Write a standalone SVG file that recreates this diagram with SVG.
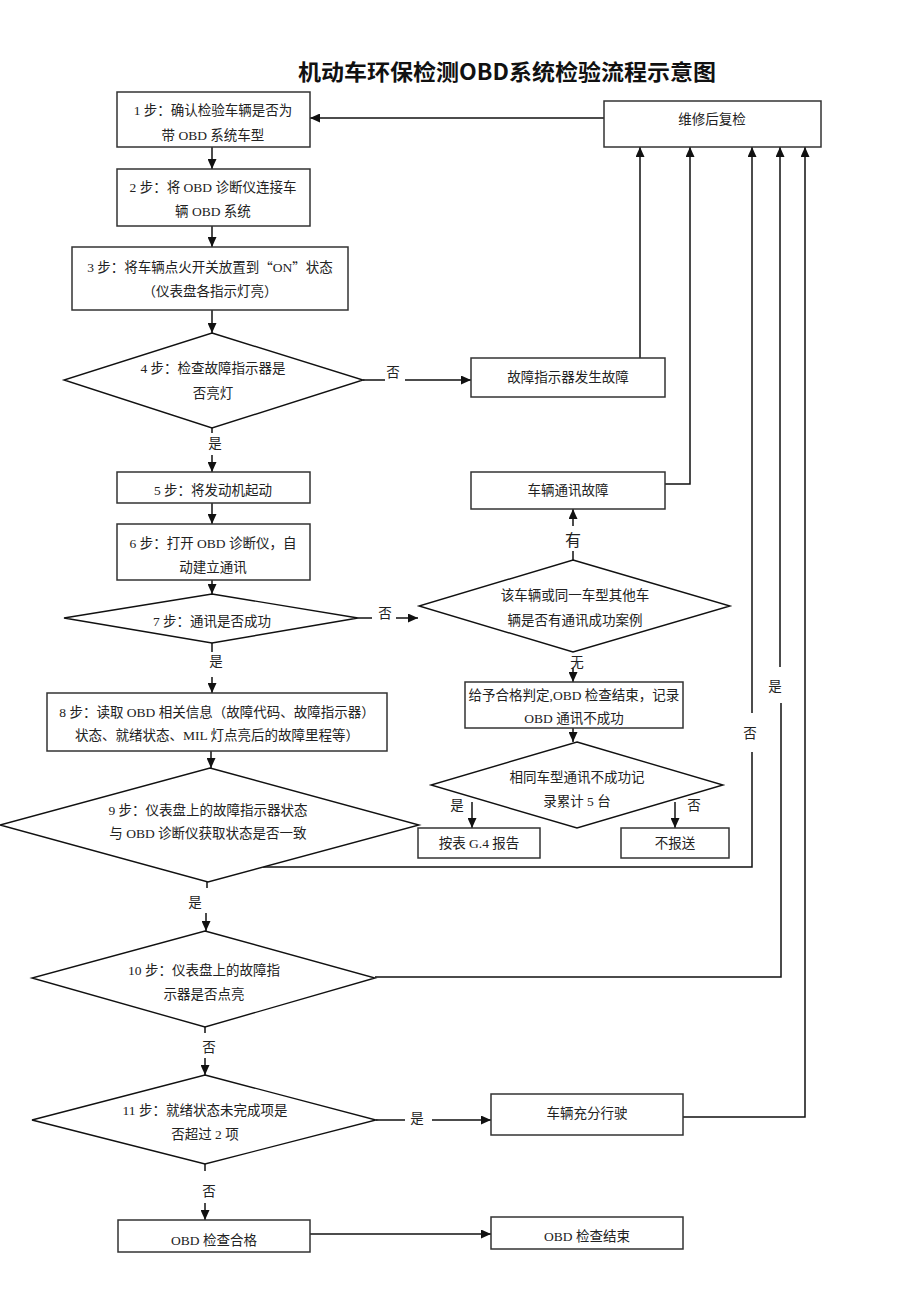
<svg xmlns="http://www.w3.org/2000/svg" width="920" height="1302" viewBox="0 0 920 1302">
<style>
.box{fill:#fff;stroke:#333;stroke-width:1.5}
.dia{fill:#fff;stroke:#111;stroke-width:1.4}
.t{font-family:"Liberation Serif","Noto Sans CJK SC",serif;font-size:13.5px;fill:#222;text-anchor:middle;dominant-baseline:central}
.lbl{font-family:"Liberation Serif","Noto Sans CJK SC",serif;font-size:13.5px;fill:#222;text-anchor:middle;dominant-baseline:central}
.big{font-size:16px}
.cjk{font-family:"Noto Sans CJK SC",sans-serif}
.title{font-family:"Noto Sans CJK SC",sans-serif;font-size:22px;font-weight:bold;fill:#111;text-anchor:middle;dominant-baseline:central}
.c{fill:none;stroke:#111;stroke-width:1.5}
.ca{fill:none;stroke:#111;stroke-width:1.5;marker-end:url(#ah)}
</style>
<defs>
<marker id="ah" markerUnits="userSpaceOnUse" markerWidth="10" markerHeight="9" refX="10" refY="4.5" orient="auto" viewBox="0 0 10 9">
<path d="M0,0 L10,4.5 L0,9 z" fill="#111"/>
</marker>
</defs>
<rect width="920" height="1302" fill="#fff"/>
<text class="title" x="507" y="70" textLength="418" lengthAdjust="spacingAndGlyphs">机动车环保检测OBD系统检验流程示意图</text>

<g id="connectors">
<path class="ca" d="M604,118 L310,118"/>
<path class="ca" d="M212,147 L212,169"/>
<path class="ca" d="M212,226 L212,247"/>
<path class="ca" d="M212,310 L212,333"/>
<path class="c" d="M363,380 L385,380"/>
<text class="lbl" x="393" y="372">否</text>
<path class="ca" d="M405,380 L471,380"/>
<path class="c" d="M212,428 L212,433"/>
<text class="lbl" x="215" y="443">是</text>
<path class="ca" d="M212,455 L212,472"/>
<path class="ca" d="M212,503 L212,524"/>
<path class="ca" d="M212,580 L212,594"/>
<path class="ca" d="M640,358 L640,147"/>
<path class="ca" d="M665,484 L690,484 L690,147"/>
<path class="c" d="M358,618 L372,618"/>
<text class="lbl" x="385" y="613">否</text>
<path class="ca" d="M396,618 L418,618"/>
<path class="c" d="M573,560 L573,551"/>
<text class="lbl big" x="573" y="540">有</text>
<path class="ca" d="M573,526 L573,509"/>
<text class="lbl" x="577" y="662">无</text>
<path class="ca" d="M573,668 L573,682"/>
<path class="ca" d="M573,728 L573,742"/>
<text class="lbl" x="457" y="805">是</text>
<path class="ca" d="M472,802 L472,828"/>
<text class="lbl" x="694" y="805">否</text>
<path class="ca" d="M675,802 L675,828"/>
<path class="c" d="M212,643 L212,652"/>
<text class="lbl" x="216" y="661">是</text>
<path class="ca" d="M212,677 L212,693"/>
<path class="ca" d="M211,751 L211,768"/>
<path class="c" d="M263,867 L752,867 L752,752"/>
<text class="lbl" x="750" y="733">否</text>
<path class="ca" d="M752,713 L752,147"/>
<path class="c" d="M207,882 L207,888"/>
<text class="lbl" x="195" y="902">是</text>
<path class="ca" d="M206,913 L206,931"/>
<path class="c" d="M375,977 L781,977 L781,703"/>
<text class="lbl" x="775" y="686">是</text>
<path class="ca" d="M780,667 L780,147"/>
<path class="c" d="M205,1027 L205,1033"/>
<text class="lbl" x="209" y="1047">否</text>
<path class="ca" d="M205,1058 L205,1075"/>
<path class="c" d="M376,1120 L405,1120"/>
<text class="lbl" x="417" y="1118">是</text>
<path class="ca" d="M432,1120 L491,1120"/>
<path class="ca" d="M683,1117 L805,1117 L805,147"/>
<path class="c" d="M205,1164 L205,1171"/>
<text class="lbl" x="209" y="1191">否</text>
<path class="ca" d="M205,1203 L205,1220"/>
<path class="ca" d="M310,1234 L491,1234"/>
</g>

<g id="n1"><rect class="box" x="117" y="92" width="193" height="55"/>
<text class="t" x="213" y="110">1 步：确认检验车辆是否为</text><text class="t" x="213" y="135">带 OBD 系统车型</text></g>
<g id="repair"><rect class="box" x="604" y="101" width="217" height="46"/>
<text class="t" x="712" y="119">维修后复检</text></g>
<g id="n2"><rect class="box" x="117" y="169" width="193" height="57"/>
<text class="t" x="213" y="187">2 步：将 OBD 诊断仪连接车</text><text class="t" x="213" y="211">辆 OBD 系统</text></g>
<g id="n3"><rect class="box" x="72" y="247" width="276" height="63"/>
<text class="t" x="210" y="267">3 步：将车辆点火开关放置到<tspan class="cjk">“</tspan>ON<tspan class="cjk">”</tspan>状态</text><text class="t" x="210" y="291">（仪表盘各指示灯亮）</text></g>
<g id="d4"><polygon class="dia" points="212,333 363,380 212,428 64,380"/>
<text class="t" x="213" y="368">4 步：检查故障指示器是</text><text class="t" x="213" y="393">否亮灯</text></g>
<g id="fault"><rect class="box" x="471" y="358" width="194" height="39"/>
<text class="t" x="568" y="377">故障指示器发生故障</text></g>
<g id="n5"><rect class="box" x="117" y="472" width="193" height="31"/>
<text class="t" x="213" y="490">5 步：将发动机起动</text></g>
<g id="comm"><rect class="box" x="471" y="472" width="194" height="37"/>
<text class="t" x="568" y="490">车辆通讯故障</text></g>
<g id="n6"><rect class="box" x="117" y="524" width="193" height="56"/>
<text class="t" x="213" y="543">6 步：打开 OBD 诊断仪，自</text><text class="t" x="213" y="567">动建立通讯</text></g>
<g id="d7"><polygon class="dia" points="212,594 358,618 212,643 64,618"/>
<text class="t" x="212" y="621">7 步：通讯是否成功</text></g>
<g id="dcase"><polygon class="dia" points="573,560 730,606 573,652 419,606"/>
<text class="t" x="575" y="595">该车辆或同一车型其他车</text><text class="t" x="575" y="620">辆是否有通讯成功案例</text></g>
<g id="passrec"><rect class="box" x="465" y="682" width="218" height="46"/>
<text class="t" x="574" y="695">给予合格判定,OBD 检查结束，记录</text><text class="t" x="574" y="718">OBD 通讯不成功</text></g>
<g id="dsame"><polygon class="dia" points="577,742 723,785 577,828 431,785"/>
<text class="t" x="577" y="777">相同车型通讯不成功记</text><text class="t" x="577" y="801">录累计 5 台</text></g>
<g id="g4"><rect class="box" x="418" y="828" width="122" height="30"/>
<text class="t" x="479" y="843">按表 G.4 报告</text></g>
<g id="noreport"><rect class="box" x="621" y="828" width="108" height="30"/>
<text class="t" x="675" y="843">不报送</text></g>
<g id="n8"><rect class="box" x="47" y="693" width="340" height="58"/>
<text class="t" x="217" y="712">8 步：读取 OBD 相关信息（故障代码、故障指示器）</text><text class="t" x="217" y="735">状态、就绪状态、MIL 灯点亮后的故障里程等）</text></g>
<g id="d9"><polygon class="dia" points="210,768 419,825 208,882 0,825"/>
<text class="t" x="208" y="810">9 步：仪表盘上的故障指示器状态</text><text class="t" x="208" y="833">与 OBD 诊断仪获取状态是否一致</text></g>
<g id="d10"><polygon class="dia" points="205,931 375,978 205,1027 32,978"/>
<text class="t" x="204" y="970">10 步：仪表盘上的故障指</text><text class="t" x="204" y="994">示器是否点亮</text></g>
<g id="d11"><polygon class="dia" points="205,1075 376,1120 205,1164 32,1120"/>
<text class="t" x="205" y="1110">11 步：就绪状态未完成项是</text><text class="t" x="205" y="1134">否超过 2 项</text></g>
<g id="drive"><rect class="box" x="491" y="1094" width="192" height="41"/>
<text class="t" x="587" y="1113">车辆充分行驶</text></g>
<g id="ok"><rect class="box" x="118" y="1220" width="192" height="32"/>
<text class="t" x="214" y="1240">OBD 检查合格</text></g>
<g id="end"><rect class="box" x="491" y="1217" width="192" height="32"/>
<text class="t" x="587" y="1236">OBD 检查结束</text></g>
</svg>
